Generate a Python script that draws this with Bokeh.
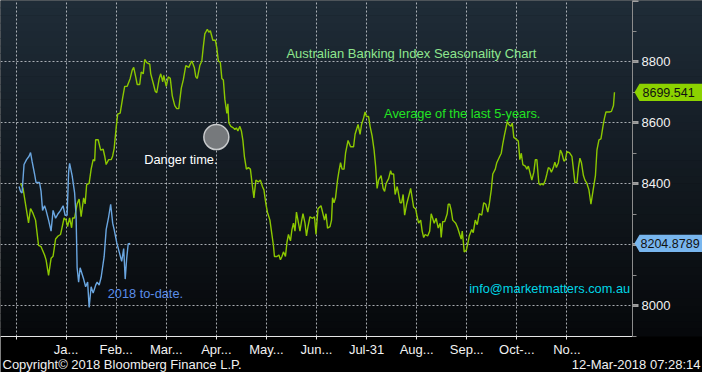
from bokeh.plotting import figure
from bokeh.models import (Range1d, FixedTicker, BoxAnnotation, PolyAnnotation, Label,
                          LinearAxis, Grid)
from bokeh.embed import file_html
from bokeh.resources import INLINE

# ---------------- data ----------------
month_ticks = list(range(12))
month_labels = ["", "Ja...", "Feb...", "Mar...", "Apr...", "May...", "Jun...",
                "Jul-31", "Aug...", "Sep...", "Oct-...", "No..."]
y_ticks = [8000, 8200, 8400, 8600, 8800, 9000]
y_minor = [7900, 8000, 8100, 8200, 8300, 8400, 8500, 8600, 8700, 8800, 8900, 9000]

# Average of the last 5 years (x in months from the first grid line)
avg_x = [0.09, 0.14, 0.20, 0.25, 0.29, 0.34, 0.39, 0.45, 0.50, 0.57,
         0.60, 0.65, 0.70, 0.74, 0.79, 0.84, 0.89, 0.96, 1.00, 1.03,
         1.07, 1.11, 1.13, 1.17, 1.22, 1.26, 1.30, 1.35, 1.38, 1.41,
         1.46, 1.50, 1.54, 1.57, 1.59, 1.64, 1.69, 1.74, 1.77, 1.80,
         1.85, 1.90, 1.93, 1.96, 2.00, 2.03, 2.08, 2.13, 2.17, 2.22,
         2.28, 2.32, 2.35, 2.39, 2.42, 2.47, 2.50, 2.54, 2.57, 2.61,
         2.67, 2.69, 2.74, 2.78, 2.81, 2.86, 2.89, 2.93, 2.95, 3.00,
         3.04, 3.08, 3.12, 3.17, 3.21, 3.25, 3.30, 3.34, 3.39, 3.45,
         3.48, 3.51, 3.56, 3.59, 3.62, 3.67, 3.71, 3.74, 3.77, 3.82,
         3.85, 3.88, 3.93, 3.98, 4.01, 4.04, 4.08, 4.11, 4.14, 4.17,
         4.21, 4.23, 4.25, 4.29, 4.34, 4.37, 4.40, 4.43, 4.47, 4.50,
         4.53, 4.56, 4.60, 4.64, 4.68, 4.71, 4.75, 4.79, 4.84, 4.88,
         4.92, 4.95, 4.99, 5.02, 5.07, 5.10, 5.14, 5.16, 5.21, 5.25,
         5.28, 5.31, 5.34, 5.38, 5.41, 5.44, 5.48, 5.51, 5.54, 5.57,
         5.60, 5.64, 5.67, 5.70, 5.73, 5.77, 5.80, 5.83, 5.87, 5.92,
         5.96, 5.99, 6.03, 6.09, 6.16, 6.19, 6.22, 6.27, 6.30, 6.32,
         6.35, 6.38, 6.42, 6.45, 6.48, 6.51, 6.55, 6.58, 6.63, 6.68,
         6.74, 6.77, 6.83, 6.87, 6.90, 6.94, 6.97, 7.00, 7.04, 7.07,
         7.11, 7.15, 7.18, 7.21, 7.24, 7.29, 7.33, 7.36, 7.39, 7.44,
         7.48, 7.50, 7.54, 7.57, 7.61, 7.63, 7.67, 7.70, 7.73, 7.76,
         7.80, 7.85, 7.88, 7.91, 7.94, 7.98, 8.01, 8.04, 8.08, 8.11,
         8.14, 8.17, 8.22, 8.26, 8.29, 8.32, 8.35, 8.39, 8.43, 8.47,
         8.49, 8.52, 8.56, 8.61, 8.63, 8.66, 8.69, 8.72, 8.78, 8.82,
         8.86, 8.89, 8.91, 8.93, 8.95, 8.99, 9.02, 9.05, 9.10, 9.13,
         9.17, 9.21, 9.25, 9.30, 9.34, 9.38, 9.42, 9.45, 9.49, 9.52,
         9.57, 9.60, 9.66, 9.69, 9.72, 9.75, 9.79, 9.81, 9.84, 9.88,
         9.91, 9.94, 9.98, 10.03, 10.06, 10.09, 10.12, 10.17, 10.20, 10.23,
         10.27, 10.30, 10.34, 10.37, 10.40, 10.44, 10.47, 10.50, 10.53, 10.57,
         10.60, 10.63, 10.66, 10.69, 10.73, 10.76, 10.79, 10.83, 10.87, 10.90,
         10.94, 10.97, 11.00, 11.05, 11.10, 11.13, 11.16, 11.20, 11.23, 11.26,
         11.29, 11.33, 11.36, 11.40, 11.44, 11.48, 11.52, 11.57, 11.60, 11.64,
         11.68, 11.72, 11.75, 11.78, 11.85, 11.89, 11.93, 11.95]
avg_y = [8401, 8385, 8323, 8272, 8319, 8303, 8281, 8198, 8194, 8167,
         8151, 8100, 8156, 8163, 8219, 8229, 8234, 8288, 8281, 8260,
         8288, 8256, 8288, 8288, 8334, 8350, 8292, 8354, 8334, 8397,
         8401, 8448, 8479, 8475, 8544, 8544, 8510, 8513, 8491, 8463,
         8479, 8479, 8491, 8516, 8584, 8628, 8631, 8682, 8719, 8719,
         8745, 8772, 8781, 8750, 8725, 8725, 8766, 8760, 8807, 8797,
         8792, 8760, 8729, 8703, 8698, 8745, 8760, 8734, 8755, 8719,
         8750, 8745, 8688, 8656, 8646, 8646, 8713, 8740, 8787, 8781,
         8792, 8802, 8781, 8750, 8745, 8787, 8802, 8849, 8891, 8906,
         8896, 8901, 8870, 8870, 8844, 8802, 8797, 8745, 8740, 8677,
         8630, 8662, 8599, 8588, 8583, 8578, 8583, 8573, 8588, 8573,
         8542, 8490, 8448, 8453, 8448, 8406, 8354, 8412, 8406, 8412,
         8391, 8380, 8333, 8307, 8281, 8245, 8198, 8162, 8162, 8167,
         8151, 8162, 8177, 8162, 8208, 8234, 8213, 8250, 8271, 8245,
         8307, 8271, 8245, 8276, 8302, 8271, 8229, 8260, 8292, 8287,
         8292, 8234, 8318, 8328, 8281, 8302, 8255, 8260, 8281, 8354,
         8338, 8354, 8412, 8443, 8469, 8448, 8448, 8500, 8542, 8521,
         8521, 8562, 8594, 8562, 8594, 8615, 8635, 8620, 8620, 8588,
         8557, 8510, 8458, 8385, 8412, 8427, 8385, 8375, 8401, 8417,
         8443, 8432, 8432, 8365, 8391, 8375, 8338, 8338, 8365, 8297,
         8333, 8365, 8385, 8354, 8323, 8318, 8292, 8271, 8281, 8245,
         8224, 8234, 8229, 8245, 8302, 8287, 8271, 8287, 8255, 8271,
         8224, 8276, 8276, 8302, 8333, 8333, 8313, 8281, 8271, 8255,
         8234, 8219, 8245, 8213, 8177, 8182, 8203, 8229, 8250, 8240,
         8281, 8266, 8302, 8297, 8338, 8333, 8307, 8333, 8380, 8432,
         8448, 8469, 8490, 8500, 8531, 8557, 8588, 8604, 8594, 8588,
         8599, 8552, 8547, 8540, 8479, 8500, 8463, 8458, 8448, 8458,
         8432, 8412, 8438, 8479, 8479, 8401, 8396, 8401, 8396, 8412,
         8432, 8453, 8450, 8438, 8453, 8471, 8453, 8469, 8510, 8500,
         8474, 8479, 8505, 8502, 8490, 8448, 8404, 8404, 8453, 8484,
         8469, 8427, 8412, 8401, 8380, 8333, 8375, 8427, 8510, 8544,
         8547, 8588, 8615, 8635, 8635, 8637, 8656, 8699.541]

# 2018 to date
ytd_x = [0.06, 0.09, 0.12, 0.16, 0.21, 0.26, 0.29, 0.32, 0.37, 0.40,
         0.47, 0.50, 0.53, 0.57, 0.60, 0.65, 0.70, 0.74, 0.79, 0.84,
         0.89, 0.94, 0.98, 1.02, 1.05, 1.07, 1.12, 1.17, 1.20, 1.22,
         1.25, 1.28, 1.35, 1.39, 1.43, 1.46, 1.50, 1.54, 1.59, 1.62,
         1.66, 1.70, 1.76, 1.80, 1.85, 1.89, 1.93, 1.96, 2.01, 2.06,
         2.11, 2.15, 2.18, 2.21, 2.24, 2.28]
ytd_y = [8391, 8375, 8370, 8463, 8479, 8490, 8502, 8474, 8432, 8404,
         8404, 8375, 8313, 8328, 8313, 8281, 8245, 8313, 8287, 8302,
         8313, 8328, 8297, 8297, 8438, 8467, 8427, 8370, 8292, 8125,
         8078, 8125, 8088, 8063, 8078, 7995, 8063, 8042, 8068, 8078,
         8068, 8094, 8162, 8250, 8292, 8333, 8271, 8250, 8208, 8177,
         8146, 8188, 8088, 8156, 8203, 8204.8789]

danger_x = [4.00]
danger_y = [8553]

# ---------------- layout constants ----------------
W, H = 702, 372
RB, BB = 70, 36            # right axis strip / footer strip (px)
FW, FH = W - RB, H - BB    # plotting area (px)
x0, x1 = -0.31, 12.31      # plotting area x extent (months)
y0, y1 = 7900, 9000        # plotting area y extent
dxp = (x1 - x0) / FW       # data units per pixel
dyp = (y1 - y0) / FH
x_end = x0 + W * dxp
y_start = y0 - BB * dyp

FONT = "Liberation Sans"

p = figure(width=W, height=H, x_range=Range1d(x0, x_end), y_range=Range1d(y_start, y1),
           output_backend="svg", toolbar_location=None,
           x_axis_type=None, y_axis_type=None, min_border=0)
p.outline_line_color = None
p.border_fill_color = "#000000"
p.background_fill_color = "#000000"

# gradient background (plot + right axis strip)
N = 44
top_rgb = (31, 44, 56)
bot_rgb = (6, 8, 10)
for i in range(N):
    t = (i + 0.5) / N
    c = tuple(int(round(bot_rgb[k] + (top_rgb[k] - bot_rgb[k]) * t)) for k in range(3))
    b = y0 + (y1 - y0) * i / N
    tp = min(y1 + 5, y0 + (y1 - y0) * (i + 1) / N + 2)
    p.add_layout(BoxAnnotation(left=x0 - 1, right=x_end + 1, bottom=b, top=tp,
                               fill_color="#%02x%02x%02x" % c, fill_alpha=1.0,
                               line_color=None, level="image"))

# grids
xg = Grid(dimension=0, ticker=FixedTicker(ticks=month_ticks))
yg = Grid(dimension=1, ticker=FixedTicker(ticks=y_ticks))
xg.cross_bounds = (y0, y1)
yg.cross_bounds = (x0, x1)
for g in (xg, yg):
    g.grid_line_color = "#c4c8cc"
    g.grid_line_dash = "2 2"
    g.grid_line_alpha = 0.85
    g.grid_line_width = 1
    p.add_layout(g)

# x axis (at the bottom of the plotting area)
xa = LinearAxis(fixed_location=y0, bounds=(x0, x1), ticker=FixedTicker(ticks=month_ticks))
xa.major_label_overrides = {t: l for t, l in zip(month_ticks, month_labels)}
xa.axis_line_color = "#e6e6e6"
xa.major_tick_line_color = "#e6e6e6"
xa.major_tick_out = 3
xa.major_tick_in = 0
xa.minor_tick_line_color = None
xa.major_label_text_color = "#f2f2f2"
xa.major_label_text_font = FONT
xa.major_label_text_font_size = "13px"
xa.major_label_standoff = 2
p.add_layout(xa, "below")

# y axis (right edge of the plotting area)
ya = LinearAxis(fixed_location=x1, bounds=(y0, y1),
                ticker=FixedTicker(ticks=y_ticks, minor_ticks=y_minor))
ya.major_label_overrides = {9000: ""}
ya.axis_line_color = "#8c8c8c"
ya.major_tick_line_color = "#a0a0a0"
ya.major_tick_line_width = 3
ya.major_tick_out = 6
ya.major_tick_in = 0
ya.minor_tick_line_color = "#8c8c8c"
ya.minor_tick_out = 4
ya.minor_tick_in = 0
ya.major_label_text_color = "#f2f2f2"
ya.major_label_text_font = FONT
ya.major_label_text_font_size = "13px"
ya.major_label_standoff = 3
p.add_layout(ya, "right")

# series
p.line(avg_x, avg_y, line_color="#8cc800", line_width=1.4)
p.line(ytd_x, ytd_y, line_color="#6aa6e0", line_width=1.4)

# danger marker
p.scatter(danger_x, danger_y, size=25, marker="circle", fill_color="#76797c",
          line_color="#c8cacc", line_width=1.5)

# annotations (text)
def txt(x, y, s, color, size="12.8px", **kw):
    p.add_layout(Label(x=x, y=y, text=s, text_color=color, text_font=FONT,
                       text_font_size=size, text_baseline="middle", **kw))

txt(5.40, 8825, "Australian Banking Index Seasonality Chart", "#8ee68e", size="13px")
txt(7.35, 8631, "Average of the last 5-years.", "#22e422")
txt(2.56, 8478, "Danger time.", "#ffffff")
txt(1.83, 8041, "2018 to-date.", "#5b8ee8")
txt(9.05, 8056, "info@marketmatters.com.au", "#00d6e6")

# last value tags
def tag(val, fill, label, off):
    tip = x1 + 2 * dxp
    rl = x1 + 7 * dxp
    rr = x_end + 1
    h = 8.6 * dyp
    p.add_layout(PolyAnnotation(xs=[tip, rl, rr, rr, rl], ys=[val, val + h, val + h, val - h, val - h],
                                fill_color=fill, fill_alpha=1.0, line_color=None, level="annotation"))
    p.add_layout(Label(x=x1, y=val, x_offset=off, text=label, text_color="#111111",
                       text_font=FONT, text_font_size="12.5px", text_baseline="middle"))

tag(avg_y[-1], "#8cd200", f"{avg_y[-1]:.3f}", 10)
tag(ytd_y[-1], "#78b6ee", f"{ytd_y[-1]:.4f}", 8)

# footer
y_foot = y0 - 28 * dyp
p.add_layout(Label(x=x0, y=y_foot, x_offset=2, text="Copyright\u00a9 2018 Bloomberg Finance L.P.",
                   text_color="#f0f0f0", text_font=FONT, text_font_size="13px",
                   text_baseline="middle", text_align="left"))
p.add_layout(Label(x=x_end, y=y_foot, x_offset=-2, text="12-Mar-2018 07:28:14",
                   text_color="#f0f0f0", text_font=FONT, text_font_size="13px",
                   text_baseline="middle", text_align="right"))

open("out.html", "w").write(file_html(p, INLINE))
